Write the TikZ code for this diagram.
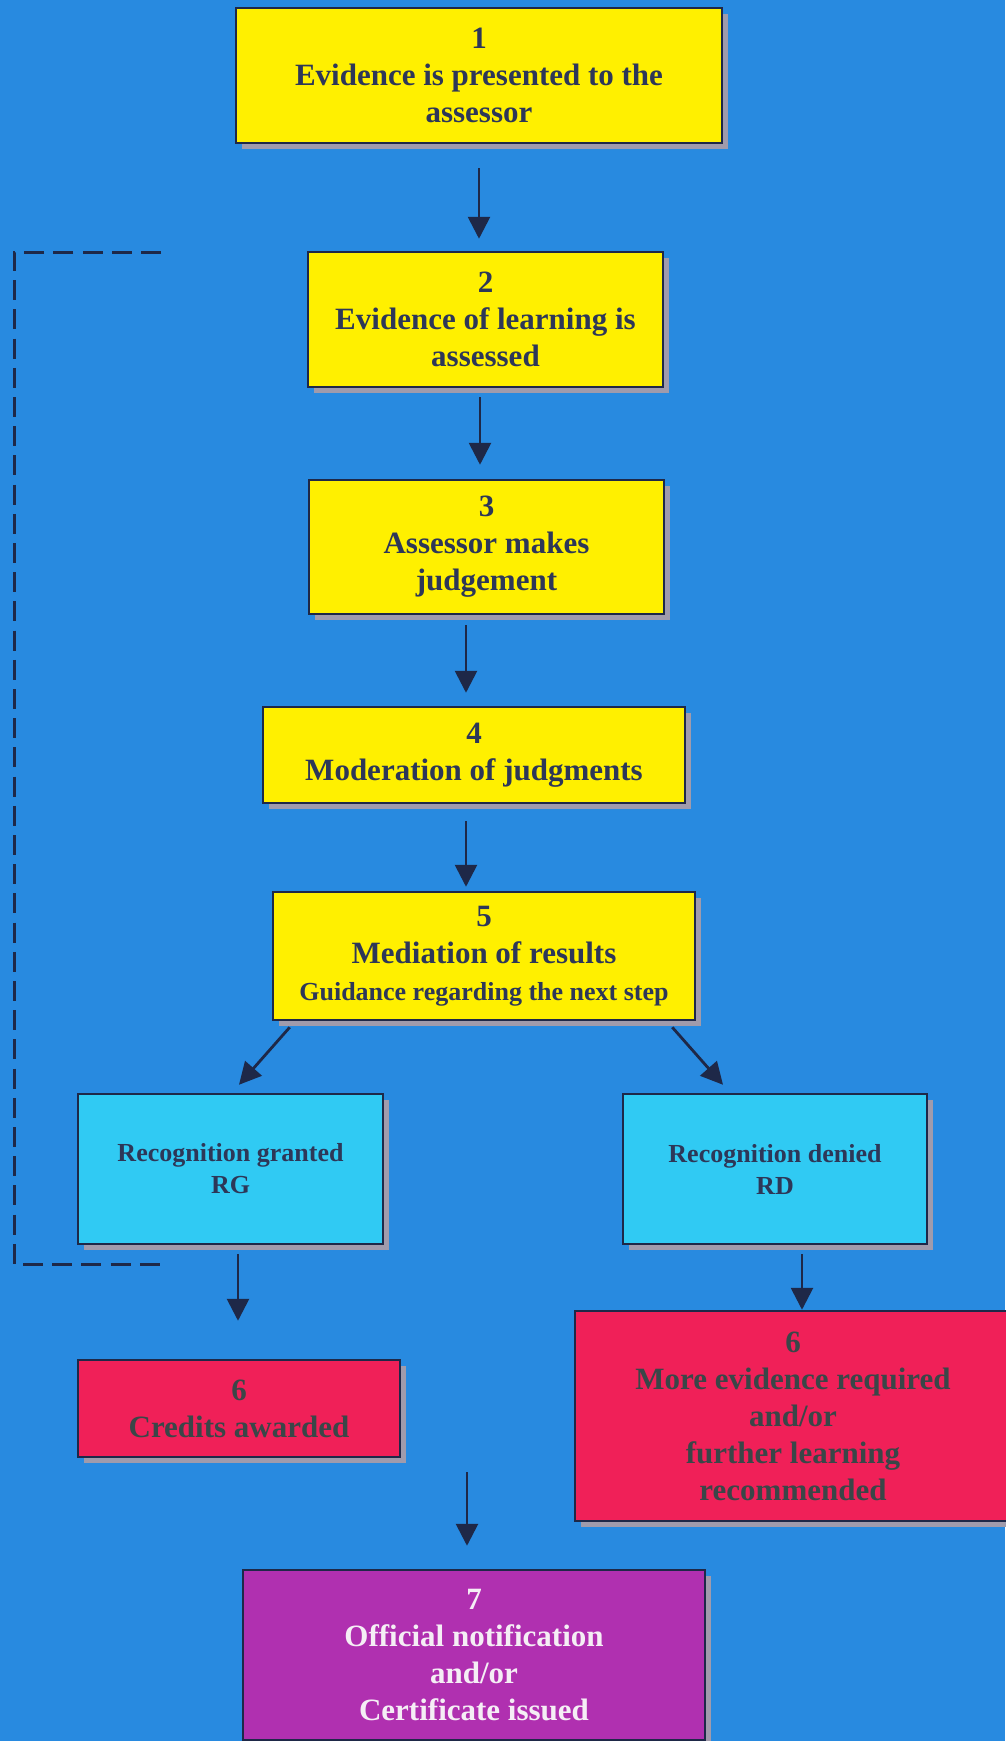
\documentclass[tikz,border=0pt]{standalone}
\usepackage{fontspec}
\setmainfont{Liberation Serif}
\usetikzlibrary{shadows,calc,arrows.meta}
\definecolor{bgc}{RGB}{40,138,224}
\definecolor{ylw}{RGB}{255,240,0}
\definecolor{cyn}{RGB}{48,202,243}
\definecolor{redc}{RGB}{240,32,88}
\definecolor{purc}{RGB}{176,48,176}
\definecolor{bordc}{RGB}{30,40,72}
\definecolor{txtc}{RGB}{45,55,88}
\definecolor{shc}{RGB}{160,155,172}
\definecolor{redtxt}{RGB}{58,70,72}
\definecolor{purtxt}{RGB}{245,238,245}
\begin{document}
\begin{tikzpicture}[x=1pt,y=-1pt,
  box/.style={draw=bordc, line width=2.5pt, inner sep=0pt, align=center, text=txtc,
    font=\bfseries\fontsize{31}{37}\selectfont,
    drop shadow={shadow xshift=6pt, shadow yshift=-6pt, fill=shc, opacity=1}},
  ybox/.style={box, fill=ylw},
  cbox/.style={box, fill=cyn, font=\bfseries\fontsize{26}{32}\selectfont},
  rbox/.style={box, fill=redc, text=redtxt},
  pbox/.style={box, fill=purc, text=purtxt},
  arr/.style={draw=bordc, line width=2.8pt, -{Triangle[length=22pt,width=22pt]}},
  dashline/.style={draw=bordc, line width=3pt, dash pattern=on 20pt off 9.2pt},
]
\fill[bgc] (0,0) rectangle (1005,1741);
\useasboundingbox (0,0) rectangle (1005,1741);

\node[ybox, minimum width=486pt, minimum height=135pt] (b1) at (479,75.5)
  {1\\Evidence is presented to the\\assessor};
\node[ybox, minimum width=355pt, minimum height=135pt] (b2) at (485.5,319.5)
  {2\\Evidence of learning is\\assessed};
\node[ybox, minimum width=355pt, minimum height=134pt] (b3) at (486.5,547)
  {3\\Assessor makes\\judgement};
\node[ybox, minimum width=422pt, minimum height=96pt] (b4) at (474,755)
  {4\\Moderation of judgments};
\node[ybox, minimum width=422pt, minimum height=128pt] (b5) at (484,956)
  {5\\Mediation of results\\{\fontsize{26}{33}\selectfont Guidance regarding the next step}};
\node[cbox, minimum width=305pt, minimum height=150pt] (rg) at (230.5,1169)
  {Recognition granted\\RG};
\node[cbox, minimum width=304pt, minimum height=150pt] (rd) at (775,1169)
  {Recognition denied\\RD};
\node[rbox, minimum width=322pt, minimum height=97pt] (cr) at (239,1408.5)
  {6\\Credits awarded};
\node[rbox, minimum width=436pt, minimum height=210pt] (me) at (793,1416)
  {6\\More evidence required\\and/or\\further learning\\recommended};
\node[pbox, minimum width=462pt, minimum height=170pt] (b7) at (474,1655)
  {7\\Official notification\\and/or\\Certificate issued};

% connectors
\draw[arr, shorten <=24pt, shorten >=12pt] (b1.south) -- (b1.south |- b2.north);
\draw[arr] ($(b2.south)+(-5.5,9)$) -- ($(b2.south |- b3.north)+(-5.5,-14)$);
\draw[arr] ($(b4.north |- b3.south)+(-8,10)$) -- ($(b4.north)+(-8,-13)$);
\draw[arr] ($(b4.south)+(-8,17)$) -- ($(b4.south |- b5.north)+(-8,-4)$);
\draw[arr] ($(b5.south west)+(18,6)$) -- ($(rg.north)+(8.5,-8)$);
\draw[arr] ($(b5.south east)+(-24,6)$) -- ($(rd.north)+(-52,-8)$);
\draw[arr] ($(rg.south)+(7.5,9)$) -- ($(rg.south |- cr.north)+(7.5,-38)$);
\draw[arr] ($(rd.south)+(27,9)$) -- ($(rd.south |- me.north)+(27,0)$);
\coordinate (m7) at (467,1472);
\draw[arr] (m7) -- ($(b7.north)+(-7,-23)$);

% dashed loop
\coordinate (d1) at (161,252);
\coordinate (d2) at (14,252);
\coordinate (d3) at (14,1264);
\coordinate (d4) at (161,1264);
\draw[dashline] (d1) -- (d2) -- (d3) -- (d4);
\end{tikzpicture}
\end{document}
